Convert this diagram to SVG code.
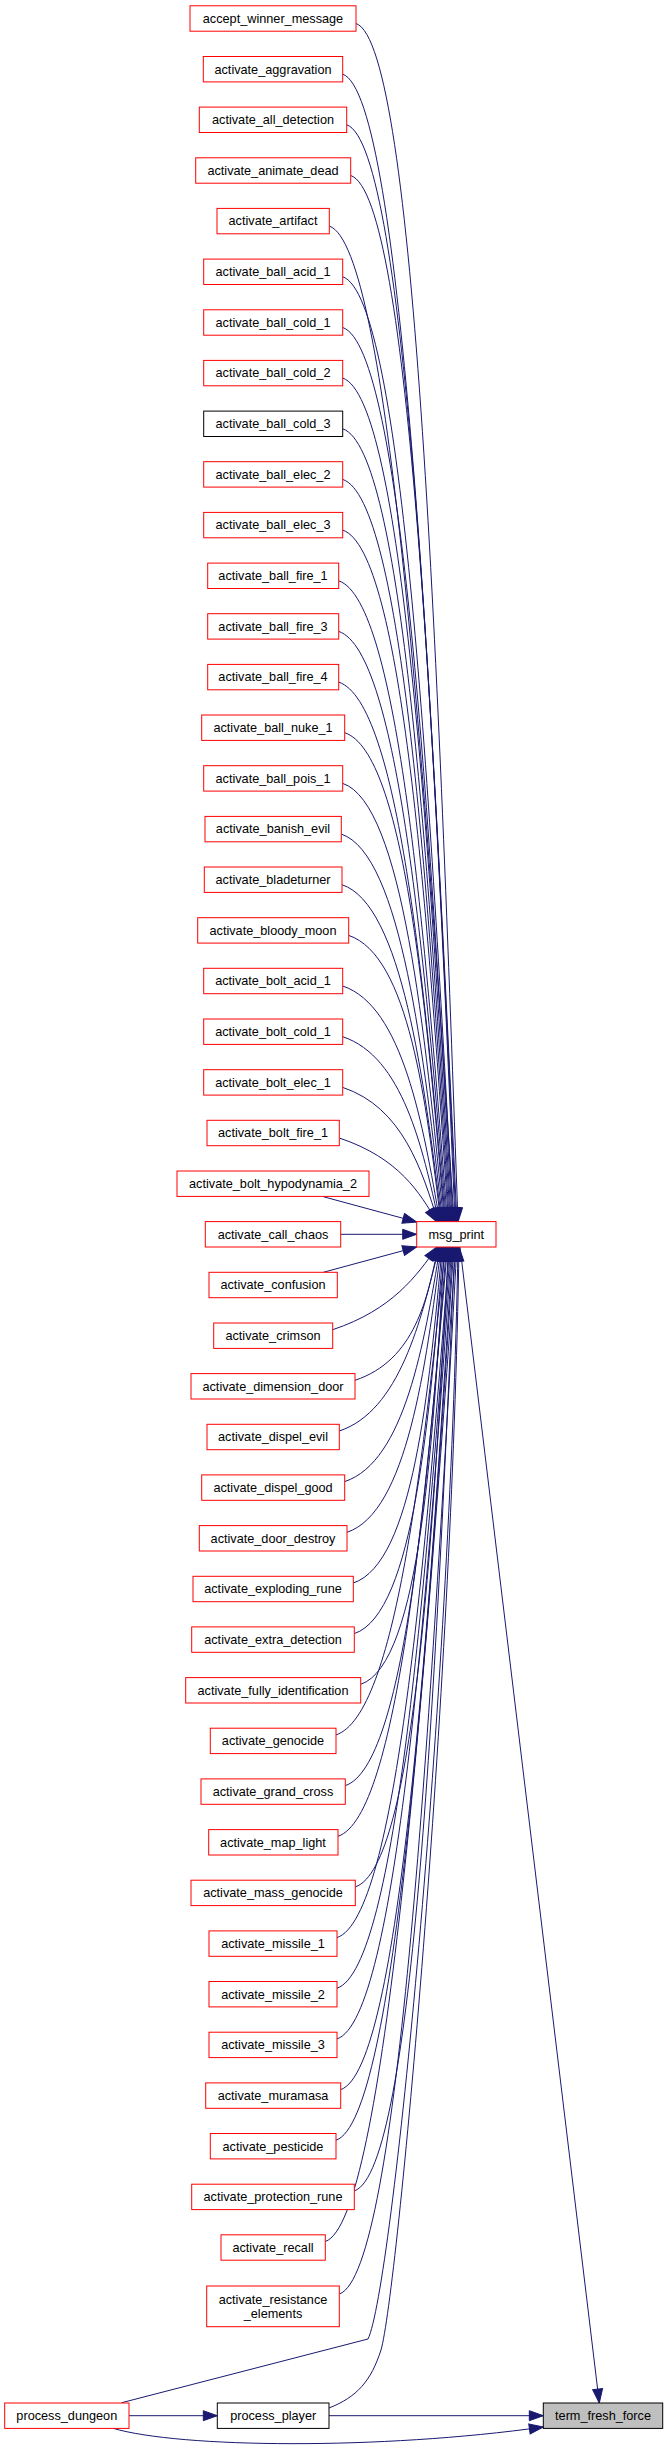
<svg xmlns="http://www.w3.org/2000/svg" width="668" height="2453" viewBox="0 0 668 2453">
<style>
.n rect{fill:#fff;stroke:#f00;stroke-width:1}
.n.k rect{stroke:#000}
.n.f rect{fill:#bfbfbf;stroke:#000}
.n text{font-family:"Liberation Sans",Arial,Helvetica,sans-serif;font-size:12.7px;fill:#000;text-anchor:middle}
.e path{fill:none;stroke:#191970;stroke-width:1;marker-end:url(#a)}
</style>
<defs>
<marker id="a" markerUnits="userSpaceOnUse" markerWidth="16" markerHeight="12" viewBox="-15 -6 16 12" refX="0" refY="0" orient="auto">
<path d="M-14,-5 L0,0 L-14,5 Z" fill="#191970" stroke="#191970" stroke-width="1"/>
</marker>
</defs>
<rect width="668" height="2453" fill="#fff"/>
<g id="edges" class="e">
<path d="M356,23.5 C416,43.5 439.1,691.7 458,1222"/>
<path d="M342.7,74.2 C402.7,94.2 432.6,714.5 457,1222"/>
<path d="M346.7,124.8 C406.7,144.8 433.9,737.3 456.1,1222"/>
<path d="M350.7,175.5 C410.7,195.5 435.1,760.1 455.1,1222"/>
<path d="M329.3,226.1 C389.3,246.1 425,782.8 454.2,1222"/>
<path d="M342.7,276.8 C402.7,296.8 430.5,805.7 453.2,1222"/>
<path d="M342.7,327.5 C402.7,347.5 430,828.5 452.3,1222"/>
<path d="M342.7,378.1 C402.7,398.1 429.4,851.2 451.3,1222"/>
<path d="M342.7,428.8 C402.7,448.8 428.9,874.1 450.4,1222"/>
<path d="M342.7,479.4 C402.7,499.4 428.4,896.8 449.4,1222"/>
<path d="M342.7,530.1 C402.7,550.1 427.9,919.6 448.5,1222"/>
<path d="M338.7,580.8 C398.7,600.8 425.5,942.5 447.5,1222"/>
<path d="M338.7,631.4 C398.7,651.4 425,965.2 446.5,1222"/>
<path d="M338.7,682.1 C398.7,702.1 424.5,988 445.6,1222"/>
<path d="M344.7,732.7 C404.7,752.7 426.6,1010.8 444.6,1222"/>
<path d="M342.7,783.4 C402.7,803.4 425.2,1033.6 443.7,1222"/>
<path d="M341.3,834.1 C401.3,854.1 424.1,1056.4 442.7,1222"/>
<path d="M342,884.7 C402,904.7 423.9,1079.2 441.8,1222"/>
<path d="M348.7,935.4 C408.7,955.4 426.3,1102 440.8,1222"/>
<path d="M342.7,986 C402.7,1006 423.1,1124.8 439.9,1222"/>
<path d="M342.7,1036.7 C402.7,1056.7 422.6,1147.6 438.9,1222"/>
<path d="M342.7,1087.4 C402.7,1107.4 422.1,1170.4 438,1222"/>
<path d="M339.3,1138 C399.3,1158 420,1193.2 437,1222"/>
<path d="M323.3,1196.7 L416.7,1222"/>
<path d="M340.7,1234.3 L416.7,1234.3"/>
<path d="M323.3,1272.3 L416.7,1247"/>
<path d="M332.7,1329.7 C392.7,1309.7 417.1,1275.2 437,1247"/>
<path d="M355,1380.3 C415,1360.3 427.7,1298 438,1247"/>
<path d="M339.3,1431 C399.3,1411 421.2,1320.8 439.1,1247"/>
<path d="M344.7,1481.6 C404.7,1461.6 424.2,1343.6 440.1,1247"/>
<path d="M347,1532.3 C407,1512.3 425.9,1366.4 441.2,1247"/>
<path d="M353.3,1583 C413.3,1563 429.2,1389.2 442.2,1247"/>
<path d="M354.3,1633.6 C414.3,1613.6 430.2,1412 443.3,1247"/>
<path d="M360.7,1684.3 C420.7,1664.3 433.7,1434.8 444.3,1247"/>
<path d="M336,1734.9 C396,1714.9 423.2,1457.6 445.4,1247"/>
<path d="M345.3,1785.6 C405.3,1765.6 427.9,1480.4 446.4,1247"/>
<path d="M338,1836.3 C398,1816.3 425.2,1503.2 447.5,1247"/>
<path d="M355.3,1886.9 C415.3,1866.9 433.6,1526 448.5,1247"/>
<path d="M337,1937.6 C397,1917.6 426,1548.8 449.6,1247"/>
<path d="M337,1988.2 C397,1968.2 426.5,1571.6 450.6,1247"/>
<path d="M337,2038.9 C397,2018.9 427.1,1594.4 451.7,1247"/>
<path d="M340.7,2089.6 C400.7,2069.6 429.3,1617.2 452.7,1247"/>
<path d="M336,2140.2 C396,2120.2 427.8,1640 453.8,1247"/>
<path d="M354.3,2190.9 C414.3,2170.9 436.5,1662.8 454.8,1247"/>
<path d="M325.3,2241.5 C385.3,2221.5 424.1,1685.6 455.9,1247"/>
<path d="M339.3,2294 C399.3,2274 431,1709.2 456.9,1247"/>
<path d="M121.7,2402.7 L368,2339 C392,2290 450,1700 458,1247"/>
<path d="M329,2408 C357,2397 371,2381 381,2350 C397,2295 452,1700 459,1247"/>
<path d="M460,1247 L599.3,2403"/>
<path d="M129,2415.7 L217.3,2415.7"/>
<path d="M329,2415.7 L543.3,2415.7"/>
<path d="M113,2428.3 C180,2448 380,2450 543.3,2427"/>
</g>
<g id="n0" class="n"><rect x="190" y="5.8" width="166" height="25.4"/><text x="273" y="22.8">accept_winner_message</text></g>
<g id="n1" class="n"><rect x="203.3" y="56.5" width="139.4" height="25.4"/><text x="273" y="73.5">activate_aggravation</text></g>
<g id="n2" class="n"><rect x="199.3" y="107.1" width="147.4" height="25.4"/><text x="273" y="124.1">activate_all_detection</text></g>
<g id="n3" class="n"><rect x="195.7" y="157.8" width="155" height="25.4"/><text x="273" y="174.8">activate_animate_dead</text></g>
<g id="n4" class="n"><rect x="217" y="208.4" width="112.3" height="25.4"/><text x="273" y="225.4">activate_artifact</text></g>
<g id="n5" class="n"><rect x="203.7" y="259.1" width="139" height="25.4"/><text x="273" y="276.1">activate_ball_acid_1</text></g>
<g id="n6" class="n"><rect x="203.7" y="309.8" width="139" height="25.4"/><text x="273" y="326.8">activate_ball_cold_1</text></g>
<g id="n7" class="n"><rect x="203.7" y="360.4" width="139" height="25.4"/><text x="273" y="377.4">activate_ball_cold_2</text></g>
<g id="n8" class="n k"><rect x="203.7" y="411.1" width="139" height="25.4"/><text x="273" y="428.1">activate_ball_cold_3</text></g>
<g id="n9" class="n"><rect x="203.7" y="461.7" width="139" height="25.4"/><text x="273" y="478.7">activate_ball_elec_2</text></g>
<g id="n10" class="n"><rect x="203.7" y="512.4" width="139" height="25.4"/><text x="273" y="529.4">activate_ball_elec_3</text></g>
<g id="n11" class="n"><rect x="207.7" y="563.1" width="131" height="25.4"/><text x="273" y="580.1">activate_ball_fire_1</text></g>
<g id="n12" class="n"><rect x="207.7" y="613.7" width="131" height="25.4"/><text x="273" y="630.7">activate_ball_fire_3</text></g>
<g id="n13" class="n"><rect x="207.7" y="664.4" width="131" height="25.4"/><text x="273" y="681.4">activate_ball_fire_4</text></g>
<g id="n14" class="n"><rect x="201.7" y="715" width="143" height="25.4"/><text x="273" y="732">activate_ball_nuke_1</text></g>
<g id="n15" class="n"><rect x="203.7" y="765.7" width="139" height="25.4"/><text x="273" y="782.7">activate_ball_pois_1</text></g>
<g id="n16" class="n"><rect x="205" y="816.4" width="136.3" height="25.4"/><text x="273" y="833.4">activate_banish_evil</text></g>
<g id="n17" class="n"><rect x="204.3" y="867" width="137.7" height="25.4"/><text x="273" y="884">activate_bladeturner</text></g>
<g id="n18" class="n"><rect x="197.7" y="917.7" width="151" height="25.4"/><text x="273" y="934.7">activate_bloody_moon</text></g>
<g id="n19" class="n"><rect x="203.7" y="968.3" width="139" height="25.4"/><text x="273" y="985.3">activate_bolt_acid_1</text></g>
<g id="n20" class="n"><rect x="203.7" y="1019" width="139" height="25.4"/><text x="273" y="1036">activate_bolt_cold_1</text></g>
<g id="n21" class="n"><rect x="203.7" y="1069.7" width="139" height="25.4"/><text x="273" y="1086.7">activate_bolt_elec_1</text></g>
<g id="n22" class="n"><rect x="207" y="1120.3" width="132.3" height="25.4"/><text x="273" y="1137.3">activate_bolt_fire_1</text></g>
<g id="n23" class="n"><rect x="177" y="1171" width="192" height="25.4"/><text x="273" y="1188">activate_bolt_hypodynamia_2</text></g>
<g id="n24" class="n"><rect x="205.3" y="1221.6" width="135.4" height="25.4"/><text x="273" y="1238.6">activate_call_chaos</text></g>
<g id="n25" class="n"><rect x="209" y="1272.3" width="128.3" height="25.4"/><text x="273" y="1289.3">activate_confusion</text></g>
<g id="n26" class="n"><rect x="213.7" y="1323" width="119" height="25.4"/><text x="273" y="1340">activate_crimson</text></g>
<g id="n27" class="n"><rect x="191" y="1373.6" width="164" height="25.4"/><text x="273" y="1390.6">activate_dimension_door</text></g>
<g id="n28" class="n"><rect x="207" y="1424.3" width="132.3" height="25.4"/><text x="273" y="1441.3">activate_dispel_evil</text></g>
<g id="n29" class="n"><rect x="201.7" y="1474.9" width="143" height="25.4"/><text x="273" y="1491.9">activate_dispel_good</text></g>
<g id="n30" class="n"><rect x="199.3" y="1525.6" width="147.7" height="25.4"/><text x="273" y="1542.6">activate_door_destroy</text></g>
<g id="n31" class="n"><rect x="193" y="1576.3" width="160.3" height="25.4"/><text x="273" y="1593.3">activate_exploding_rune</text></g>
<g id="n32" class="n"><rect x="191.7" y="1626.9" width="162.6" height="25.4"/><text x="273" y="1643.9">activate_extra_detection</text></g>
<g id="n33" class="n"><rect x="185.7" y="1677.6" width="175" height="25.4"/><text x="273" y="1694.6">activate_fully_identification</text></g>
<g id="n34" class="n"><rect x="210.3" y="1728.2" width="125.7" height="25.4"/><text x="273" y="1745.2">activate_genocide</text></g>
<g id="n35" class="n"><rect x="201" y="1778.9" width="144.3" height="25.4"/><text x="273" y="1795.9">activate_grand_cross</text></g>
<g id="n36" class="n"><rect x="208.7" y="1829.6" width="129.3" height="25.4"/><text x="273" y="1846.6">activate_map_light</text></g>
<g id="n37" class="n"><rect x="191" y="1880.2" width="164.3" height="25.4"/><text x="273" y="1897.2">activate_mass_genocide</text></g>
<g id="n38" class="n"><rect x="209" y="1930.9" width="128" height="25.4"/><text x="273" y="1947.9">activate_missile_1</text></g>
<g id="n39" class="n"><rect x="209" y="1981.5" width="128" height="25.4"/><text x="273" y="1998.5">activate_missile_2</text></g>
<g id="n40" class="n"><rect x="209" y="2032.2" width="128" height="25.4"/><text x="273" y="2049.2">activate_missile_3</text></g>
<g id="n41" class="n"><rect x="205.7" y="2082.9" width="135" height="25.4"/><text x="273" y="2099.9">activate_muramasa</text></g>
<g id="n42" class="n"><rect x="210.3" y="2133.5" width="125.7" height="25.4"/><text x="273" y="2150.5">activate_pesticide</text></g>
<g id="n43" class="n"><rect x="191.7" y="2184.2" width="162.6" height="25.4"/><text x="273" y="2201.2">activate_protection_rune</text></g>
<g id="n44" class="n"><rect x="221" y="2234.8" width="104.3" height="25.4"/><text x="273" y="2251.8">activate_recall</text></g>
<g id="n45" class="n"><rect x="206.7" y="2286" width="132.6" height="40.7"/><text x="273" y="2303.8">activate_resistance</text><text x="273" y="2317.5">_elements</text></g>
<g id="msg_print" class="n"><rect x="416.7" y="1221.6" width="79.3" height="25.4"/><text x="456.3" y="1238.6">msg_print</text></g>
<g id="process_dungeon" class="n"><rect x="4.7" y="2403" width="124.3" height="25.4"/><text x="66.8" y="2420">process_dungeon</text></g>
<g id="process_player" class="n k"><rect x="217.3" y="2403" width="111.7" height="25.4"/><text x="273.2" y="2420">process_player</text></g>
<g id="term_fresh_force" class="n f"><rect x="543.3" y="2403" width="119.4" height="25.4"/><text x="603" y="2420">term_fresh_force</text></g>
</svg>
